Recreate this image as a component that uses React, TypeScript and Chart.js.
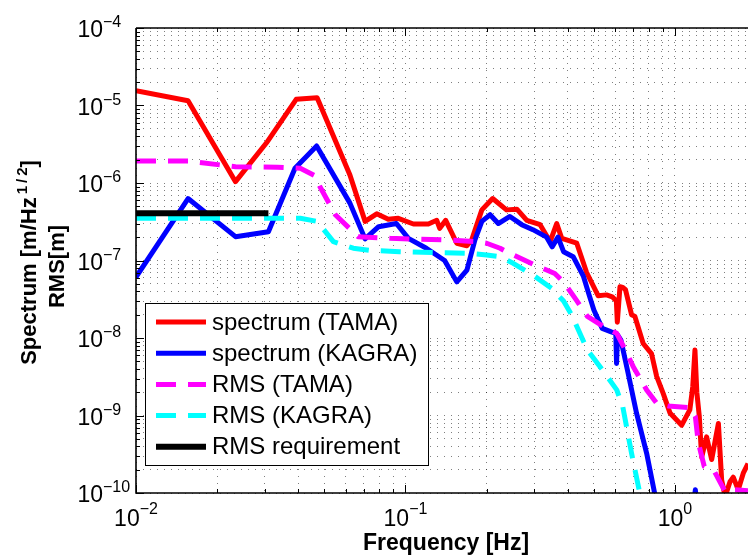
import React, { useEffect, useRef } from 'react';
import { Chart, registerables } from 'chart.js';

Chart.register(...registerables);

const FONT = '"Liberation Sans", Arial, Helvetica, sans-serif';

// ---- axis setup ----
const X_MIN = 0.01;
const X_MAX = 1.866;
const Y_MIN = 1e-10;
const Y_MAX = 1e-4;
const xMajorExponents = [-2, -1, 0];
const yMajorExponents = [-10, -9, -8, -7, -6, -5, -4];
const minorMantissas = [2, 3, 4, 5, 6, 7, 8, 9];

// ---- data ----
const specTamaFreq = [
  0.01, 0.0156, 0.0234, 0.0305, 0.0393, 0.047, 0.0622, 0.0708, 0.0782, 0.0863, 0.094, 0.107,
  0.1216, 0.1306, 0.134, 0.141, 0.155, 0.169, 0.176, 0.192, 0.2106, 0.237, 0.259, 0.282, 0.316,
  0.344, 0.364, 0.38, 0.396, 0.432, 0.47, 0.519, 0.557, 0.585, 0.606, 0.611, 0.625, 0.64, 0.655,
  0.69, 0.71, 0.762, 0.818, 0.855, 0.904, 0.958, 1.059, 1.135, 1.164, 1.186, 1.205, 1.23, 1.256,
  1.31, 1.368, 1.449, 1.49, 1.535, 1.6, 1.645, 1.717, 1.792, 1.866,
];
const specTamaVal = [
  1.55e-5, 1.15e-5, 1.04e-6, 3.3e-6, 1.2e-5, 1.26e-5, 1.27e-6, 3.2e-7, 4.0e-7, 3.4e-7, 3.5e-7, 2.96e-7,
  2.96e-7, 3.3e-7, 2.6e-7, 3.3e-7, 1.67e-7, 1.55e-7, 1.84e-7, 4.5e-7, 6.3e-7, 4.5e-7, 4.6e-7, 3.3e-7, 2.9e-7,
  1.75e-7, 3.0e-7, 1.93e-7, 1.84e-7, 1.67e-7, 7.0e-8, 3.5e-8, 3.6e-8, 3.4e-8, 3.0e-8, 1.6e-8, 4.6e-8, 4.5e-8, 4.2e-8,
  2.0e-8, 1.9e-8, 8.5e-9, 6.3e-9, 3.2e-9, 1.93e-9, 1.08e-9, 7.5e-10, 1.18e-9, 2.35e-9, 7.0e-9, 2.0e-9, 1.0e-9, 2.9e-10,
  5.3e-10, 2.7e-10, 7.9e-10, 1.47e-10, 9.0e-11, 1.4e-10, 1.6e-10, 1.1e-10, 1.8e-10, 2.4e-10,
];

const specKagraFreq = [
  0.01, 0.0156, 0.0234, 0.031, 0.0389, 0.0468, 0.0622, 0.0708, 0.0795, 0.0925, 0.1025, 0.1195,
  0.1397, 0.155, 0.169, 0.181, 0.192, 0.206, 0.221, 0.244, 0.27, 0.297, 0.334, 0.35, 0.368, 0.386,
  0.419, 0.457, 0.48, 0.5, 0.537, 0.58, 0.603, 0.607, 0.612, 0.63, 0.67, 0.72, 0.785, 0.84, 0.87,
  1.15, 1.19, 1.23, 1.866,
];
const specKagraVal = [
  6.1e-8, 6.3e-7, 2.03e-7, 2.35e-7, 1.55e-6, 3.0e-6, 5.5e-7, 1.9e-7, 2.73e-7, 3.0e-7, 1.93e-7, 1.44e-7,
  1.0e-7, 5.3e-8, 7.5e-8, 1.84e-7, 3.2e-7, 3.9e-7, 3.0e-7, 3.7e-7, 2.9e-7, 2.5e-7, 2.0e-7, 1.5e-7, 2.0e-7, 1.3e-7,
  1.12e-7, 6.3e-8, 3.6e-8, 2.3e-8, 1.33e-8, 1.2e-8, 1.15e-8, 4.7e-9, 1.1e-8, 9.4e-9, 3.5e-9, 1.07e-9, 3.25e-10, 1.0e-10, 5e-11,
  4e-11, 1.1e-10, 4e-11, 1e-11,
];

const rmsTamaFreq = [
  0.01, 0.0156, 0.0234, 0.0335, 0.0407, 0.046, 0.0481, 0.0549, 0.0667, 0.0877, 0.142, 0.184, 0.2,
  0.2244, 0.237, 0.297, 0.358, 0.386, 0.43, 0.473, 0.557, 0.608, 0.654, 0.7, 0.785, 0.855, 0.942,
  1.135, 1.19, 1.22, 1.284, 1.4, 1.535, 1.67, 1.866,
];
const rmsTamaVal = [
  1.92e-6, 1.92e-6, 1.62e-6, 1.6e-6, 1.55e-6, 1.25e-6, 9.0e-7, 3.9e-7, 2.03e-7, 1.93e-7, 1.84e-7, 1.75e-7, 1.67e-7,
  1.44e-7, 1.3e-7, 9.0e-8, 6.8e-8, 5.3e-8, 3.1e-8, 1.9e-8, 1.33e-8, 1.15e-8, 7.0e-9, 4.27e-9, 2.14e-9, 1.44e-9, 1.33e-9,
  1.26e-9, 9.7e-10, 4.5e-10, 2.2e-10, 1.9e-10, 1.04e-10, 1.1e-10, 1.07e-10,
];

const rmsKagraFreq = [
  0.01, 0.031, 0.0407, 0.047, 0.054, 0.064, 0.074, 0.095, 0.174, 0.2, 0.2244, 0.251, 0.297, 0.354,
  0.367, 0.386, 0.413, 0.473, 0.537, 0.608, 0.64, 0.69, 0.74, 0.77,
];
const rmsKagraVal = [
  3.5e-7, 3.5e-7, 3.5e-7, 3.2e-7, 1.75e-7, 1.44e-7, 1.35e-7, 1.3e-7, 1.24e-7, 1.18e-7, 1.12e-7, 9.2e-8, 6.5e-8, 4.2e-8,
  3.6e-8, 3.0e-8, 2.0e-8, 7.0e-9, 3.9e-9, 2.14e-9, 1.3e-9, 3.25e-10, 1.0e-10, 5e-11,
];

const rmsReqFreq = [0.01, 0.031];
const rmsReqVal = [4.06e-7, 4.06e-7];

const seriesLabels = [
  'spectrum (TAMA)',
  'spectrum (KAGRA)',
  'RMS (TAMA)',
  'RMS (KAGRA)',
  'RMS requirement',
];

const pts = (f: number[], v: number[]) => f.map((x, i) => ({ x, y: v[i] }));

const isMajor = (v: number) => Math.abs(Math.log10(v) - Math.round(Math.log10(v))) < 1e-6;

const buildLogTicks = (min: number, max: number) => {
  const out: number[] = [];
  const e0 = Math.floor(Math.log10(min));
  const e1 = Math.ceil(Math.log10(max));
  for (let e = e0; e <= e1; e++) {
    const base = Math.pow(10, e);
    if (base >= min * 0.999999 && base <= max * 1.000001) out.push(base);
    for (const m of minorMantissas) {
      const v = m * base;
      if (v >= min * 0.999999 && v <= max * 1.000001) out.push(v);
    }
  }
  return out.sort((a, b) => a - b);
};

const xTicksAll = buildLogTicks(X_MIN, X_MAX);
const yTicksAll = buildLogTicks(Y_MIN, Y_MAX);

const drawPow = (
  ctx: CanvasRenderingContext2D,
  exp: number,
  x: number,
  baseY: number,
  supY: number,
  mode: 'center' | 'right10'
) => {
  const baseFont = `23px ${FONT}`;
  const supFont = `16px ${FONT}`;
  const expStr = exp < 0 ? '\u2212' + Math.abs(exp) : String(exp);
  ctx.font = baseFont;
  const w10 = ctx.measureText('10').width;
  ctx.font = supFont;
  const wExp = ctx.measureText(expStr).width;
  let left: number;
  if (mode === 'center') left = x - (w10 + wExp) / 2;
  else left = x - w10;
  ctx.textAlign = 'left';
  ctx.textBaseline = 'alphabetic';
  ctx.fillStyle = '#000';
  ctx.font = baseFont;
  ctx.fillText('10', left, baseY);
  ctx.font = supFont;
  ctx.fillText(expStr, left + w10, supY);
};

const matlabAxes = {
  id: 'matlabAxes',
  afterDraw(chart: any) {
    const { ctx, chartArea: a, scales } = chart;
    const xs = scales.x;
    const ys = scales.y;
    ctx.save();

    // tick marks (inside)
    ctx.strokeStyle = '#000';
    ctx.lineWidth = 1;
    ctx.beginPath();
    for (const v of xTicksAll) {
      const px = Math.round(xs.getPixelForValue(v)) + 0.5;
      const len = isMajor(v) ? 8 : 4;
      ctx.moveTo(px, a.bottom);
      ctx.lineTo(px, a.bottom - len);
      ctx.moveTo(px, a.top);
      ctx.lineTo(px, a.top + len);
    }
    for (const v of yTicksAll) {
      const py = Math.round(ys.getPixelForValue(v)) + 0.5;
      const len = isMajor(v) ? 8 : 4;
      ctx.moveTo(a.left, py);
      ctx.lineTo(a.left + len, py);
    }
    ctx.stroke();

    // axis lines
    ctx.lineWidth = 1.6;
    ctx.beginPath();
    ctx.moveTo(a.left, a.top);
    ctx.lineTo(a.right, a.top);
    ctx.moveTo(a.left, a.top);
    ctx.lineTo(a.left, a.bottom);
    ctx.lineTo(a.right, a.bottom);
    ctx.stroke();

    // tick labels
    for (const e of xMajorExponents) {
      const px = xs.getPixelForValue(Math.pow(10, e));
      drawPow(ctx, e, px, a.bottom + 33, a.bottom + 21, 'center');
    }
    for (const e of yMajorExponents) {
      const py = ys.getPixelForValue(Math.pow(10, e));
      drawPow(ctx, e, a.left - 33, py + 9, py - 1, 'right10');
    }

    // x title
    const xMid = xs.getPixelForValue(Math.sqrt(X_MIN * 2));
    ctx.font = `bold 23px ${FONT}`;
    ctx.textAlign = 'center';
    ctx.textBaseline = 'alphabetic';
    ctx.fillText('Frequency [Hz]', xMid, 550);

    // y title (rotated, two lines)
    ctx.save();
    const yMid = (a.top + a.bottom) / 2 + 2;
    ctx.translate(36, yMid);
    ctx.rotate(-Math.PI / 2);
    const mainFont = `bold 22px ${FONT}`;
    const supFont = `bold 15px ${FONT}`;
    ctx.font = mainFont;
    const p1 = 'Spectrum [m/Hz';
    const p3 = ']';
    const w1 = ctx.measureText(p1).width;
    const w3 = ctx.measureText(p3).width;
    ctx.font = supFont;
    const supChars = ['1', '/', '2'];
    const gap = 3;
    const wSup = supChars.reduce((s, c) => s + ctx.measureText(c).width, 0) + gap * 3;
    const total = w1 + wSup + w3;
    let cx = -total / 2;
    ctx.textAlign = 'left';
    ctx.font = mainFont;
    ctx.fillText(p1, cx, 0);
    cx += w1 + gap;
    ctx.font = supFont;
    for (const c of supChars) {
      ctx.fillText(c, cx, -9);
      cx += ctx.measureText(c).width + gap;
    }
    ctx.font = mainFont;
    ctx.fillText(p3, cx - gap, 0);
    ctx.restore();

    ctx.save();
    ctx.translate(64, yMid + 4);
    ctx.rotate(-Math.PI / 2);
    ctx.font = `bold 22px ${FONT}`;
    ctx.textAlign = 'center';
    ctx.fillText('RMS[m]', 0, 0);
    ctx.restore();

    // legend
    const lx = 145;
    const ly = 303;
    const lw = 283;
    const lh = 162;
    ctx.fillStyle = '#fff';
    ctx.fillRect(lx, ly, lw, lh);
    ctx.strokeStyle = '#000';
    ctx.lineWidth = 1;
    ctx.strokeRect(lx + 0.5, ly + 0.5, lw, lh);
    const rowY0 = 322;
    const rowStep = 31.2;
    chart.data.datasets.forEach((ds: any, i: number) => {
      const y = rowY0 + i * rowStep;
      ctx.save();
      ctx.strokeStyle = ds.borderColor;
      ctx.lineWidth = ds.borderWidth;
      ctx.setLineDash(ds.borderDash || []);
      ctx.lineCap = 'butt';
      ctx.beginPath();
      ctx.moveTo(156, y);
      ctx.lineTo(206, y);
      ctx.stroke();
      ctx.restore();
      ctx.fillStyle = '#000';
      ctx.font = `24px ${FONT}`;
      ctx.textAlign = 'left';
      ctx.textBaseline = 'middle';
      ctx.fillText(ds.label, 212, y + 1);
    });

    ctx.restore();
  },
};

export default function App() {
  const ref = useRef<HTMLCanvasElement | null>(null);

  useEffect(() => {
    document.body.style.margin = '0';
    const canvas = ref.current;
    if (!canvas) return;
    const logGrid = (ticks: number[]) => (scale: any) => {
      scale.ticks = ticks.map((v) => ({ value: v }));
    };
    const chart = new Chart(canvas, {
      type: 'line',
      data: {
        datasets: [
          {
            label: seriesLabels[0],
            data: pts(specTamaFreq, specTamaVal),
            borderColor: '#ff0000',
            borderWidth: 5,
            order: 4,
          },
          {
            label: seriesLabels[1],
            data: pts(specKagraFreq, specKagraVal),
            borderColor: '#0000ff',
            borderWidth: 5,
            order: 3,
          },
          {
            label: seriesLabels[2],
            data: pts(rmsTamaFreq, rmsTamaVal),
            borderColor: '#ff00ff',
            borderWidth: 5,
            borderDash: [20, 12],
            order: 2,
          },
          {
            label: seriesLabels[3],
            data: pts(rmsKagraFreq, rmsKagraVal),
            borderColor: '#00ffff',
            borderWidth: 5,
            borderDash: [20, 12],
            order: 1,
          },
          {
            label: seriesLabels[4],
            data: pts(rmsReqFreq, rmsReqVal),
            borderColor: '#000000',
            borderWidth: 6,
            order: 0,
          },
        ].map((d) => ({
          ...d,
          pointRadius: 0,
          fill: false,
          tension: 0,
          borderJoinStyle: 'round' as const,
          borderCapStyle: 'butt' as const,
          clip: 0,
        })),
      },
      options: {
        responsive: false,
        animation: false,
        parsing: false as any,
        layout: { padding: { left: 136, top: 28, right: 0, bottom: 64 } },
        plugins: {
          legend: { display: false },
          tooltip: { enabled: false },
          title: { display: false },
        },
        scales: {
          x: {
            type: 'logarithmic',
            min: X_MIN,
            max: X_MAX,
            afterBuildTicks: logGrid(xTicksAll),
            ticks: { display: false },
            grid: { color: 'rgba(0,0,0,0.5)', lineWidth: 1, drawTicks: false },
            border: { display: false, dash: [1, 6] },
            title: { display: false },
          },
          y: {
            type: 'logarithmic',
            min: Y_MIN,
            max: Y_MAX,
            afterBuildTicks: logGrid(yTicksAll),
            ticks: { display: false },
            grid: { color: 'rgba(0,0,0,0.5)', lineWidth: 1, drawTicks: false },
            border: { display: false, dash: [1, 6] },
            title: { display: false },
          },
        },
      },
      plugins: [matlabAxes],
    });
    return () => chart.destroy();
  }, []);

  return (
    <div style={{ width: 748, height: 557, overflow: 'hidden', background: '#fff' }}>
      <canvas ref={ref} width={748} height={557} style={{ display: 'block' }} />
    </div>
  );
}
